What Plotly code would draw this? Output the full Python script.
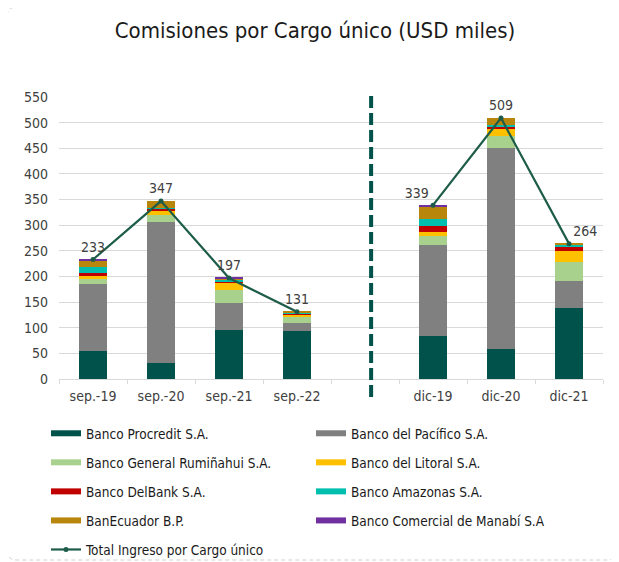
import plotly.graph_objects as go

# ---------------- data ----------------
categories = ["sep.-19", "sep.-20", "sep.-21", "sep.-22", " ", "dic-19", "dic-20", "dic-21"]
procredit = [55, 32, 95, 94, None, 83, 59, 139]
pacifico = [130, 274, 53, 15, None, 178, 392, 53]
ruminahui = [11, 14, 25, 12, None, 18, 23, 37]
litoral = [5, 9, 15, 4, None, 7, 14, 20]
delbank = [5, 3, 3, 2, None, 13, 4, 10]
amazonas = [13, 2, 3, 2, None, 13, 3, 3]
banecuador = [12, 13, 2, 2, None, 25, 14, 2]
manabi = [2, 0, 1, 0, None, 2, 0, 0]
total = [233, 347, 197, 131, None, 339, 509, 264]
label_pos = ["top center", "top center", "top center", "top center", "top center",
             "top left", "top center", "top right"]

series = [
    ("Banco Procredit S.A.", procredit, "#00524A", "legend"),
    ("Banco del Pacífico S.A.", pacifico, "#808080", "legend2"),
    ("Banco General Rumiñahui S.A.", ruminahui, "#A9D18E", "legend"),
    ("Banco del Litoral S.A.", litoral, "#FFC000", "legend2"),
    ("Banco DelBank S.A.", delbank, "#C00000", "legend"),
    ("Banco Amazonas S.A.", amazonas, "#00BFAE", "legend2"),
    ("BanEcuador B.P.", banecuador, "#B8860B", "legend"),
    ("Banco Comercial de Manabí S.A", manabi, "#7030A0", "legend2"),
]
total_name = "Total Ingreso por Cargo único"
line_color = "#1E5C4A"

FONT = "DejaVu Sans Condensed, DejaVu Sans, sans-serif"

# page body adds an 8px offset; work in screen coordinates and compensate
OFF = 8
W, H = 619 - OFF, 562 - OFF
PL, PR, PT, PB = 59, 603, 97, 379          # plot area in screen px
L, R, T, B = PL - OFF, W - (PR - OFF), PT - OFF, H - (PB - OFF)
PW, PH = W - L - R, H - T - B


def px(xs):
    return (xs - OFF - L) / PW


def py(ys):
    return (H - B - (ys - OFF)) / PH


fig = go.Figure()

for i, (name, vals, col, lg) in enumerate(series):
    fig.add_trace(go.Bar(x=categories, y=vals, name=name, marker_color=col,
                         marker_line_width=0, showlegend=False,
                         legendgroup=f"g{i}"))

# legend swatches (wide flat bars like the original)
for i, (name, vals, col, lg) in enumerate(series):
    fig.add_trace(go.Scatter(x=[None], y=[None], mode="lines", name=name,
                             line=dict(color=col, width=6), legend=lg,
                             legendgroup=f"g{i}", hoverinfo="skip"))

fig.add_trace(go.Scatter(x=categories, y=total, name=total_name,
                         mode="lines+markers+text",
                         line=dict(color=line_color, width=2.2),
                         marker=dict(color=line_color, size=5),
                         text=[("" if v is None else str(v)) for v in total],
                         textposition=label_pos,
                         textfont=dict(family=FONT, size=14, color="#404040"),
                         legend="legend", legendgroup="gtot"))

gap_idx = categories.index(" ")

# rounded dashed frame (screen px: left 7, top 7, right 617, bottom 560)
x0, x1 = px(7), px(617)
y0, y1 = py(560), py(7)
rx, ry = 10 / PW, 10 / PH
frame = (f"M {x0+rx},{y1} L {x1-rx},{y1} Q {x1},{y1} {x1},{y1-ry} "
         f"L {x1},{y0+ry} Q {x1},{y0} {x1-rx},{y0} "
         f"L {x0+rx},{y0} Q {x0},{y0} {x0},{y0+ry} "
         f"L {x0},{y1-ry} Q {x0},{y1} {x0+rx},{y1} Z")

fig.update_layout(
    width=W, height=H,
    margin=dict(l=L, r=R, t=T, b=B, autoexpand=False),
    paper_bgcolor="white", plot_bgcolor="white",
    barmode="stack", bargap=0.6,
    font=dict(family=FONT, size=13, color="#404040"),
    title=dict(text="Comisiones por Cargo único (USD miles)",
               x=(315 - OFF) / W, xref="container", xanchor="center",
               y=1 - (30 - OFF) / H, yref="container", yanchor="middle",
               font=dict(family=FONT, size=22, color="#1a1a1a")),
    xaxis=dict(type="category", categoryorder="array", categoryarray=categories,
               showline=True, linecolor="#D9D9D9", linewidth=1,
               ticks="outside", tickson="boundaries", ticklen=4, tickcolor="#D9D9D9",
               ticklabelstandoff=4,
               showgrid=False, tickfont=dict(family=FONT, size=14, color="#404040"),
               range=[-0.5, len(categories) - 0.5]),
    yaxis=dict(range=[0, 550], dtick=50, showgrid=True, gridcolor="#D9D9D9",
               gridwidth=1, zeroline=False, showline=False, ticks="",
               ticklabelstandoff=10,
               tickfont=dict(family=FONT, size=14, color="#404040")),
    legend=dict(orientation="v", x=px(46), xanchor="left", y=py(418), yanchor="top",
                tracegroupgap=8.5, font=dict(family=FONT, size=13.5, color="#1a1a1a"),
                bgcolor="rgba(0,0,0,0)", itemclick=False, itemdoubleclick=False),
    legend2=dict(orientation="v", x=px(311), xanchor="left", y=py(418), yanchor="top",
                 tracegroupgap=8.5, font=dict(family=FONT, size=13.5, color="#1a1a1a"),
                 bgcolor="rgba(0,0,0,0)", itemclick=False, itemdoubleclick=False),
    shapes=[
        dict(type="line", xref="x", yref="paper", x0=gap_idx + 0.09, x1=gap_idx + 0.09,
             y0=py(397), y1=py(95), line=dict(color="#00524A", width=4, dash="12px,5px")),
        dict(type="path", xref="paper", yref="paper", path=frame,
             line=dict(color="#D0D0D0", width=1, dash="4px,3px"), layer="below"),
    ],
)

fig.write_html("out.html")
